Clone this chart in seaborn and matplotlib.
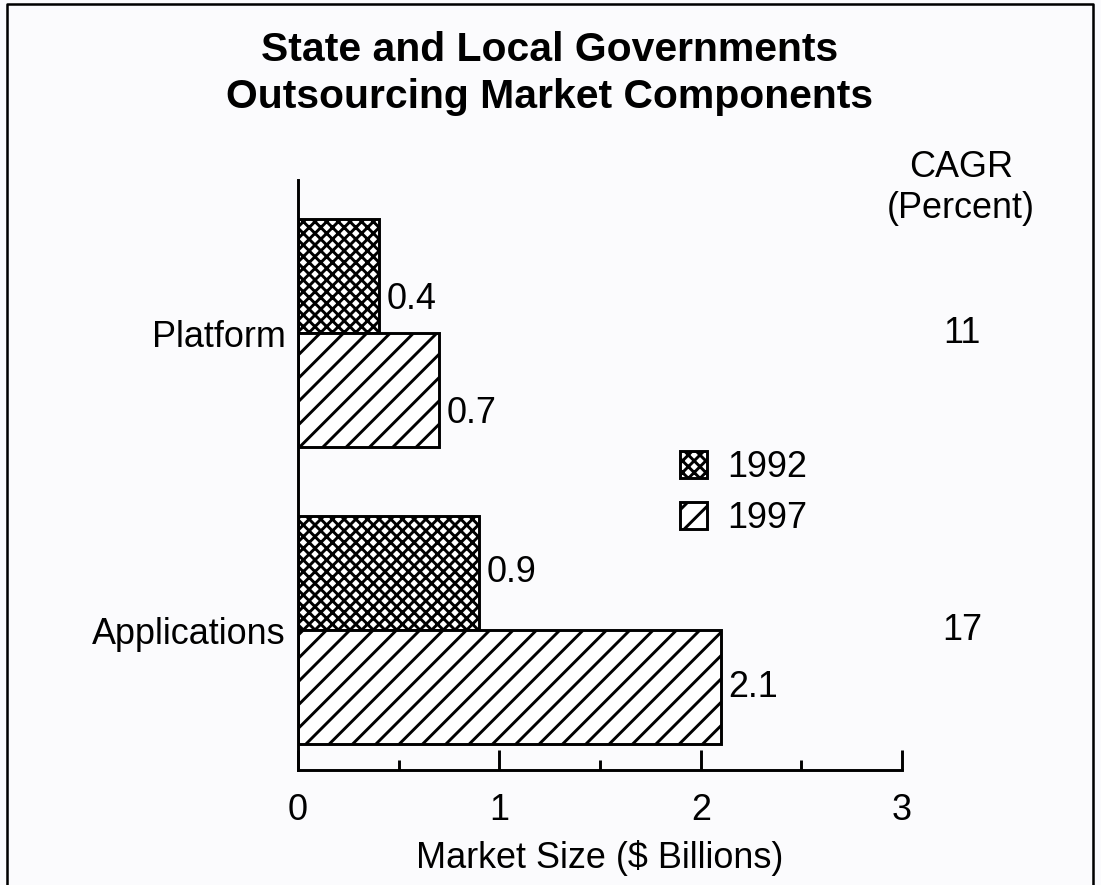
import pandas as pd
import seaborn as sns
import matplotlib.pyplot as plt
from matplotlib.lines import Line2D
from matplotlib.ticker import MultipleLocator

# Chart data
segments = ['Platform', 'Applications']
years = ['1992', '1997']
size_1992 = [0.4, 0.9]
size_1997 = [0.7, 2.1]
cagr = ['11', '17']

df = pd.DataFrame({
    'segment': segments * 2,
    'year': [years[0]] * 2 + [years[1]] * 2,
    'size': size_1992 + size_1997,
})

sns.set_style('white')
plt.rcParams['font.family'] = ['Liberation Sans', 'DejaVu Sans']
plt.rcParams['hatch.linewidth'] = 1.5
plt.rcParams['hatch.color'] = 'black'
for k in ['text.color', 'axes.labelcolor', 'xtick.color', 'ytick.color']:
    plt.rcParams[k] = 'black'

bg = '#fbfbfd'
fig = plt.figure(figsize=(1101 / 140, 885 / 140), dpi=140, facecolor=bg)
ax = fig.add_axes([0.2707, 0.1299, 0.5486, 0.6667])
ax.set_facecolor(bg)

sns.barplot(data=df, y='segment', x='size', hue='year', orient='h',
            width=0.77, palette=['white', 'white'], edgecolor='black',
            linewidth=1.5, saturation=1, ax=ax)

# hatching per year
hatches = ['xxxx', '//']
for cont, h in zip(ax.containers, hatches):
    for p in cont.patches:
        p.set_hatch(h)

# value labels (platform labels sit a little low in the original)
nudge = {'Platform': -12, 'Applications': 0}
for cont, vals in zip(ax.containers, [size_1992, size_1997]):
    for p, v, seg in zip(cont.patches, vals, segments):
        ax.annotate(f'{v:.1f}', (p.get_x() + p.get_width(), p.get_y() + p.get_height() / 2),
                    xytext=(4, nudge[seg]), textcoords='offset points',
                    ha='left', va='center', fontsize=18.5)

ax.set_xlim(0, 3)
ax.set_ylim(1.471, -0.515)
ax.xaxis.set_major_locator(MultipleLocator(1))
ax.xaxis.set_minor_locator(MultipleLocator(0.5))
ax.tick_params(axis='x', which='major', direction='in', length=10.3, width=1.5,
               labelsize=18.5, pad=12, bottom=True)
ax.tick_params(axis='x', which='minor', direction='in', length=5.1, width=1.5, bottom=True)
ax.tick_params(axis='y', length=0, labelsize=18.5, pad=6.5)
ax.set_xlabel('Market Size ($ Billions)', fontsize=18.5, labelpad=6)
ax.set_ylabel('')

for s in ['top', 'right']:
    ax.spines[s].set_visible(False)
for s in ['left', 'bottom']:
    ax.spines[s].set_linewidth(1.5)
    ax.spines[s].set_color('black')

# legend
ax.legend(handles=[c.patches[0] for c in ax.containers], labels=years,
          loc='upper left', bbox_to_anchor=(662 / 1101, 1 - 432 / 885),
          bbox_transform=fig.transFigure, frameon=False, fontsize=18.5,
          handlelength=0.75, handleheight=0.75, handletextpad=0.55,
          labelspacing=0.45, borderpad=0)

# CAGR column
fig.text(961 / 1101, 1 - 188 / 885, 'CAGR\n(Percent)', ha='center', va='center',
         fontsize=18.5, linespacing=1.2)
trans = ax.get_yaxis_transform()
for i, c in enumerate(cagr):
    ax.text(1.099, i, c, transform=trans, ha='center', va='center', fontsize=18.5,
            clip_on=False)

# title
fig.text(0.4995, 1 - 73.5 / 885,
         'State and Local Governments\nOutsourcing Market Components',
         ha='center', va='center', fontsize=21, fontweight='bold', linespacing=1.28)

# page frame (left, top, right)
fig.add_artist(Line2D([7 / 1101, 7 / 1101, 1093 / 1101, 1093 / 1101],
                      [0, 1 - 4 / 885, 1 - 4 / 885, 0],
                      transform=fig.transFigure, color='black', linewidth=1.3))

fig.savefig('out.png', dpi=140, facecolor=bg)
